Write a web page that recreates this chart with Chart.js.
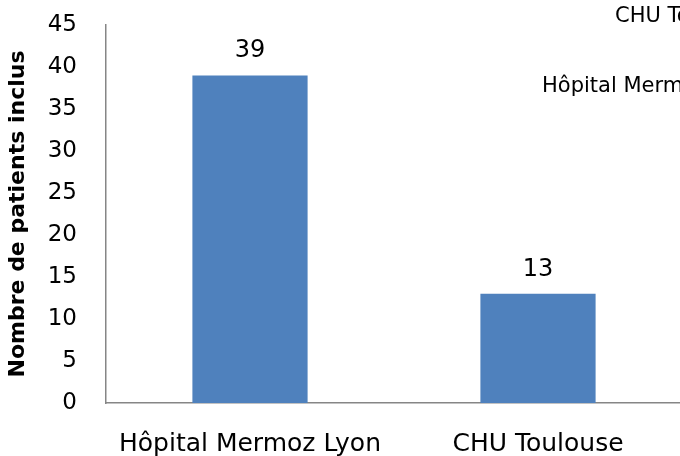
<!DOCTYPE html>
<html>
<head>
<meta charset="utf-8">
<script src="https://cdn.jsdelivr.net/npm/chart.js@4/dist/chart.umd.min.js"></script>
<style>
html,body{margin:0;padding:0;background:#fff;overflow:hidden;width:680px;height:456px;}
#wrap{position:relative;width:682px;height:456px;}
</style>
</head>
<body>
<div id="wrap"><canvas id="c" width="682" height="456"></canvas></div>
<script>
const categories = ['Hôpital Mermoz Lyon', 'CHU Toulouse'];
const patients = [39, 13];
const yTitle = 'Nombre de patients inclus';
const legendLabels = ['CHU Toulouse', 'Hôpital Mermoz Lyon'];

const FONT = '"DejaVu Sans", sans-serif';

const valueLabels = {
  id: 'valueLabels',
  afterDatasetsDraw(chart) {
    const ctx = chart.ctx;
    const meta = chart.getDatasetMeta(0);
    ctx.save();
    ctx.font = '24px ' + FONT;
    ctx.fillStyle = '#000';
    ctx.textAlign = 'center';
    ctx.textBaseline = 'alphabetic';
    meta.data.forEach((bar, i) => {
      ctx.fillText(String(chart.data.datasets[0].data[i]), bar.x, bar.y - 18);
    });
    ctx.restore();
  }
};

const clippedLegend = {
  id: 'clippedLegend',
  afterDraw(chart) {
    const ctx = chart.ctx;
    ctx.save();
    ctx.font = '21px ' + FONT;
    ctx.fillStyle = '#000';
    ctx.textAlign = 'left';
    ctx.textBaseline = 'middle';
    ctx.fillText(legendLabels[0], 615, 17);
    ctx.fillText(legendLabels[1], 542, 87);
    ctx.restore();
  }
};

new Chart(document.getElementById('c'), {
  type: 'bar',
  data: {
    labels: categories,
    datasets: [{
      data: patients,
      backgroundColor: '#4F81BD',
      borderWidth: 0,
      barPercentage: 0.4,
      categoryPercentage: 1.0
    }]
  },
  options: {
    responsive: false,
    animation: false,
    devicePixelRatio: 1,
    layout: { padding: { top: 25, right: 0, bottom: 0, left: 0 } },
    plugins: { legend: { display: false }, tooltip: { enabled: false } },
    scales: {
      x: {
        grid: { display: false, drawTicks: false },
        border: { display: true, color: '#868686', width: 1.5 },
        ticks: { color: '#000', font: { family: FONT, size: 25 }, padding: 26, maxRotation: 0 },
        afterFit(s) { s.height = 53; s.paddingLeft = 0; s.paddingRight = 0; }
      },
      y: {
        min: 0, max: 45,
        grid: { display: false, drawTicks: false },
        border: { display: true, color: '#868686', width: 1.5 },
        ticks: { stepSize: 5, color: '#000', font: { family: FONT, size: 23 }, padding: 29 },
        title: { display: true, text: yTitle, color: '#000', font: { family: FONT, size: 22, weight: 'bold' }, padding: { top: 5, bottom: 0 } },
        afterFit(s) { s.width = 106; s.paddingTop = 0; s.paddingBottom = 0; }
      }
    }
  },
  plugins: [valueLabels, clippedLegend]
});
</script>
</body>
</html>
